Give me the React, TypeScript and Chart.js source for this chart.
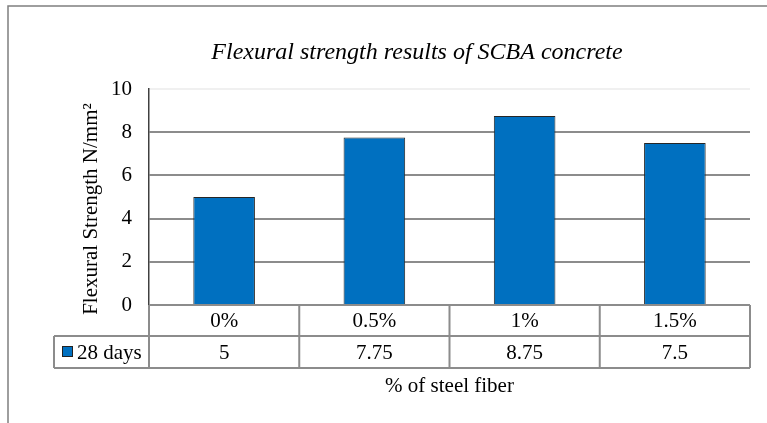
import React, { useEffect, useRef } from "react";
import { Chart, registerables } from "chart.js";

Chart.register(...registerables);

const chartTitle = "Flexural strength results of SCBA concrete";
const categories = ["0%", "0.5%", "1%", "1.5%"];
const seriesName = "28 days";
const values = [5, 7.75, 8.75, 7.5];
const yMin = 0;
const yMax = 10;
const yStep = 2;
const yTitle = "Flexural Strength N/mm²";
const xTitle = "% of steel fiber";

const FONT = '"Liberation Serif", "Times New Roman", serif';
const BAR_COLOR = "#0070C0";
const LINE_GRAY = "#8c8c8c";

const tablePlugin = {
  id: "tablePlugin",
  afterDraw(chart: any) {
    const ctx = chart.ctx as CanvasRenderingContext2D;
    const area = chart.chartArea;
    const xs = chart.scales.x;
    const n = categories.length;
    const row1Top = area.bottom;
    const row1Bottom = row1Top + 31;
    const row2Bottom = row1Bottom + 32;
    const legendLeft = 54;
    const bounds: number[] = [];
    for (let i = 0; i < n; i++) {
      const c = xs.getPixelForValue(i);
      const half = (area.right - area.left) / n / 2;
      if (i === 0) bounds.push(c - half);
      bounds.push(c + half);
    }
    ctx.save();
    ctx.strokeStyle = "#7f7f7f";
    ctx.lineWidth = 1.5;
    ctx.strokeRect(8, 6, 900, 600);

    ctx.strokeStyle = LINE_GRAY;
    ctx.lineWidth = 2;
    ctx.beginPath();
    ctx.moveTo(area.left, row1Top);
    ctx.lineTo(area.right, row1Top);
    ctx.moveTo(legendLeft, row1Bottom);
    ctx.lineTo(area.right, row1Bottom);
    ctx.moveTo(legendLeft, row2Bottom);
    ctx.lineTo(area.right, row2Bottom);
    bounds.forEach((b) => {
      ctx.moveTo(b, row1Top);
      ctx.lineTo(b, row2Bottom);
    });
    ctx.moveTo(legendLeft, row1Bottom);
    ctx.lineTo(legendLeft, row2Bottom);
    ctx.stroke();

    ctx.fillStyle = "#000";
    ctx.font = `21px ${FONT}`;
    ctx.textAlign = "center";
    ctx.textBaseline = "middle";
    categories.forEach((c, i) => {
      const x = xs.getPixelForValue(i);
      ctx.fillText(c, x, (row1Top + row1Bottom) / 2 + 1);
      ctx.fillText(String(values[i]), x, (row1Bottom + row2Bottom) / 2 + 1);
    });
    const midY = (row1Bottom + row2Bottom) / 2;
    ctx.fillStyle = BAR_COLOR;
    ctx.fillRect(62, midY - 6, 11, 11);
    ctx.strokeStyle = "#222";
    ctx.lineWidth = 1;
    ctx.strokeRect(62.5, midY - 5.5, 10, 10);
    ctx.fillStyle = "#000";
    ctx.textAlign = "left";
    ctx.fillText(seriesName, 77, midY + 1);

    ctx.textAlign = "center";
    ctx.fillText(xTitle, (area.left + area.right) / 2, 386);

    ctx.font = `italic 24px ${FONT}`;
    ctx.textBaseline = "alphabetic";
    ctx.fillText(chartTitle, 417, 59);

    ctx.font = `21px ${FONT}`;
    ctx.translate(91, 209);
    ctx.rotate(-Math.PI / 2);
    ctx.textBaseline = "middle";
    ctx.fillText(yTitle, 0, 0);
    ctx.restore();
  },
};

export default function App() {
  const ref = useRef<HTMLCanvasElement | null>(null);
  useEffect(() => {
    document.body.style.margin = "0";
    const canvas = ref.current;
    if (!canvas) return;
    const chart = new Chart(canvas, {
      type: "bar",
      data: {
        labels: categories,
        datasets: [
          {
            label: seriesName,
            data: values,
            backgroundColor: BAR_COLOR,
            borderColor: "#262626",
            borderWidth: 1,
            barPercentage: 0.41,
            categoryPercentage: 1,
          },
        ],
      },
      options: {
        responsive: false,
        animation: false,
        layout: { padding: { top: 89, right: 17, left: 0, bottom: 0 } },
        plugins: {
          legend: { display: false },
          title: { display: false },
          tooltip: { enabled: false },
        },
        scales: {
          x: {
            ticks: { display: false },
            grid: { display: false, drawTicks: false },
            border: { display: false },
            afterFit: (scale: any) => {
              scale.height = 118;
            },
          },
          y: {
            min: yMin,
            max: yMax,
            ticks: {
              stepSize: yStep,
              color: "#000",
              padding: 17,
              font: { family: FONT, size: 21 },
            },
            grid: {
              drawTicks: false,
              lineWidth: 2,
              color: (c: any) =>
                c.tick && c.tick.value === yMax
                  ? "#f0f0f0"
                  : c.tick && c.tick.value === yMin
                  ? "rgba(0,0,0,0)"
                  : LINE_GRAY,
            },
            border: { display: true, color: "#404040", width: 1.5 },
            afterFit: (scale: any) => {
              scale.width = 149;
            },
          },
        },
      },
      plugins: [tablePlugin],
    });
    let alive = true;
    const fonts = (document as any).fonts;
    if (fonts && fonts.load) {
      Promise.all([
        fonts.load(`21px "Liberation Serif"`),
        fonts.load(`italic 24px "Liberation Serif"`),
      ])
        .then(() => {
          if (alive) chart.update();
        })
        .catch(() => {});
    }
    return () => {
      alive = false;
      chart.destroy();
    };
  }, []);
  return (
    <div style={{ width: 767, height: 423, background: "#fff" }}>
      <span
        style={{
          position: "absolute",
          left: -9999,
          fontFamily: '"Liberation Serif"',
        }}
      >
        preload <i>preload</i>
      </span>
      <canvas ref={ref} width={767} height={423} style={{ display: "block" }} />
    </div>
  );
}
